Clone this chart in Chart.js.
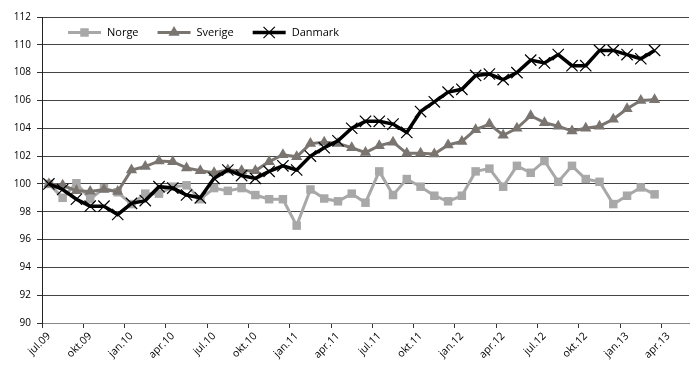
<!DOCTYPE html>
<html>
<head>
<meta charset="utf-8">
<script src="https://cdn.jsdelivr.net/npm/chart.js@4.4.1/dist/chart.umd.min.js"></script>
<style>
  html, body { margin: 0; padding: 0; background: #fff; }
</style>
</head>
<body>
<canvas id="myChart" width="700" height="373"></canvas>
<script>
// Months jul.09 .. mai.13 (the axis runs two months past the last value)
const months = [
  "jul.09", "aug.09", "sep.09", "okt.09", "nov.09", "des.09",
  "jan.10", "feb.10", "mar.10", "apr.10", "mai.10", "jun.10",
  "jul.10", "aug.10", "sep.10", "okt.10", "nov.10", "des.10",
  "jan.11", "feb.11", "mar.11", "apr.11", "mai.11", "jun.11",
  "jul.11", "aug.11", "sep.11", "okt.11", "nov.11", "des.11",
  "jan.12", "feb.12", "mar.12", "apr.12", "mai.12", "jun.12",
  "jul.12", "aug.12", "sep.12", "okt.12", "nov.12", "des.12",
  "jan.13", "feb.13", "mar.13", "apr.13", "mai.13",
];

const norge = [
  100.0, 99.0, 100.05, 98.9, 99.7, 99.4, 98.55, 99.3, 99.3, 99.8,
  99.9, 98.9, 99.7, 99.5, 99.7, 99.2, 98.9, 98.9, 97.0, 99.6,
  98.95, 98.75, 99.3, 98.65, 100.9, 99.2, 100.35, 99.8, 99.15, 98.75,
  99.15, 100.9, 101.1, 99.8, 101.3, 100.8, 101.65, 100.15, 101.3, 100.35,
  100.15, 98.55, 99.15, 99.75, 99.25,
];
const sverige = [
  100.0, 99.9, 99.5, 99.45, 99.6, 99.45, 101.0, 101.25, 101.65, 101.6,
  101.15, 100.95, 100.8, 101.0, 100.95, 100.95, 101.6, 102.1, 101.95, 102.9,
  103.0, 102.9, 102.6, 102.25, 102.75, 103.0, 102.2, 102.2, 102.15, 102.8,
  103.05, 103.9, 104.3, 103.5, 104.0, 104.9, 104.4, 104.15, 103.8, 104.0,
  104.15, 104.65, 105.4, 106.0, 106.05,
];
const danmark = [
  100.0, 99.6, 98.9, 98.4, 98.4, 97.8, 98.6, 98.8, 99.8, 99.7,
  99.2, 99.0, 100.4, 101.0, 100.6, 100.4, 100.9, 101.3, 101.0, 102.0,
  102.6, 103.1, 104.0, 104.5, 104.5, 104.3, 103.7, 105.2, 105.9, 106.6,
  106.8, 107.8, 107.9, 107.5, 108.0, 108.9, 108.7, 109.3, 108.5, 108.5,
  109.6, 109.6, 109.3, 109.0, 109.6,
];

const yMin = 90;
const yMax = 112;
const yStep = 2;

const FONT = '"Open Sans", "DejaVu Sans", sans-serif';

// draws a marker the same way for the legend
function drawMarker(ctx, ds, x, y) {
  const r = ds.pointRadius;
  ctx.save();
  ctx.fillStyle = ds.pointBackgroundColor;
  ctx.strokeStyle = ds.pointBorderColor;
  ctx.lineWidth = ds.pointBorderWidth;
  ctx.beginPath();
  if (ds.pointStyle === "rect") {
    const s = Math.SQRT1_2 * r;
    ctx.rect(x - s, y - s, 2 * s, 2 * s);
    ctx.fill();
  } else if (ds.pointStyle === "triangle") {
    for (let k = 0; k < 3; k++) {
      const a = k * 2 * Math.PI / 3;
      const px = x + Math.sin(a) * r;
      const py = y - Math.cos(a) * r;
      if (k === 0) ctx.moveTo(px, py); else ctx.lineTo(px, py);
    }
    ctx.closePath();
    ctx.fill();
  } else {
    const d = Math.SQRT1_2 * r;
    ctx.moveTo(x - d, y - d); ctx.lineTo(x + d, y + d);
    ctx.moveTo(x - d, y + d); ctx.lineTo(x + d, y - d);
    ctx.stroke();
  }
  ctx.restore();
}

// legend inside the plot: line + marker + name
const lineLegend = {
  id: "lineLegend",
  afterDraw(chart) {
    const ctx = chart.ctx;
    let x = 68;
    const y = 32.5;
    ctx.save();
    ctx.font = "11px " + FONT;
    ctx.textBaseline = "middle";
    chart.data.datasets.forEach(ds => {
      ctx.strokeStyle = ds.borderColor;
      ctx.lineWidth = ds.borderWidth;
      ctx.beginPath();
      ctx.moveTo(x, y);
      ctx.lineTo(x + 33, y);
      ctx.stroke();
      drawMarker(ctx, ds, x + 16.5, y);
      ctx.fillStyle = "#000";
      ctx.fillText(ds.label, x + 39, y);
      x += 39 + ctx.measureText(ds.label).width + 19;
    });
    ctx.restore();
  },
};

new Chart("myChart", {
  type: "line",
  data: {
    labels: months,
    datasets: [
      {
        label: "Norge",
        data: norge,
        borderColor: "#a8a8a8",
        borderWidth: 3,
        pointStyle: "rect",
        pointRadius: 6,
        pointBackgroundColor: "#a8a8a8",
        pointBorderColor: "#a8a8a8",
        pointBorderWidth: 0,
        order: 3,
      },
      {
        label: "Sverige",
        data: sverige,
        borderColor: "#7a7570",
        borderWidth: 3,
        pointStyle: "triangle",
        pointRadius: 6.5,
        pointBackgroundColor: "#7a7570",
        pointBorderColor: "#7a7570",
        pointBorderWidth: 0,
        order: 2,
      },
      {
        label: "Danmark",
        data: danmark,
        borderColor: "#000",
        borderWidth: 3.5,
        pointStyle: "crossRot",
        pointRadius: 8,
        pointBackgroundColor: "#000",
        pointBorderColor: "#000",
        pointBorderWidth: 1.2,
        order: 1,
      },
    ],
  },
  options: {
    responsive: false,
    devicePixelRatio: 1,
    animation: false,
    lineTension: 0,
    layout: { padding: { left: 0, right: 11, top: 17, bottom: 0 } },
    plugins: {
      legend: { display: false },
      tooltip: { enabled: false },
    },
    scales: {
      x: {
        offset: true,
        grid: {
          offset: true,
          drawOnChartArea: false,
          tickLength: 5,
          tickColor: c => (c.index % 3 === 0 ? "#333" : "rgba(0,0,0,0)"),
        },
        border: { color: "#888", width: 1 },
        ticks: {
          autoSkip: false,
          minRotation: 45,
          maxRotation: 45,
          padding: 2,
          color: "#000",
          font: { family: FONT, size: 10.5 },
          callback: (v, i) => (i % 3 === 0 ? months[i] : ""),
        },
        afterFit: s => { s.height = 50; },
      },
      y: {
        min: yMin,
        max: yMax,
        ticks: {
          stepSize: yStep,
          padding: 6,
          color: "#000",
          font: { family: FONT, size: 10 },
        },
        grid: {
          color: c => (c.tick && c.tick.value === yMin ? "#888" : "#444"),
          tickLength: 5,
          tickColor: "#333",
        },
        border: { color: "#222", width: 1 },
        afterFit: s => { s.width = 42; },
      },
    },
  },
  plugins: [lineLegend],
});
</script>
</body>
</html>
